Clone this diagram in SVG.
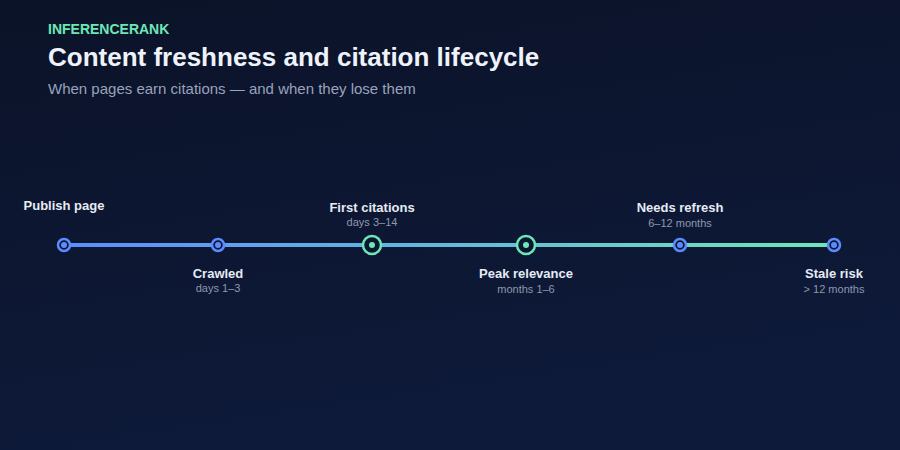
<svg xmlns="http://www.w3.org/2000/svg" width="900" height="450" viewBox="0 0 900 450">
<defs>
<linearGradient id="bg" x1="0" y1="0" x2="0.3" y2="1"><stop offset="0" stop-color="#0b1328"/><stop offset="1" stop-color="#0e1a3a"/></linearGradient>
<linearGradient id="ln" x1="64" y1="0" x2="834" y2="0" gradientUnits="userSpaceOnUse"><stop offset="0" stop-color="#5b8cff"/><stop offset="1" stop-color="#6ee7b7"/></linearGradient>
<style>
.t{font-family:"Liberation Sans",Arial,sans-serif;text-anchor:middle}
.l{font-size:13px;font-weight:bold;fill:#e6ebf5}
.s{font-size:11px;fill:#8d97b0}
.sm{fill:#0d1630;stroke:#5b8cff;stroke-width:2.5}
.smd{fill:#5b8cff}
.bg{fill:#0d1630;stroke:#6ee7b7;stroke-width:2.5}
.bgd{fill:#6ee7b7}
</style>
</defs>
<rect width="900" height="450" fill="url(#bg)"/>
<text x="48" y="34" font-family="Liberation Sans,Arial,sans-serif" font-size="14" font-weight="bold" fill="#6ee7b7">INFERENCERANK</text>
<text x="48" y="66" font-family="Liberation Sans,Arial,sans-serif" font-size="26" font-weight="bold" fill="#eef2fa">Content freshness and citation lifecycle</text>
<text x="48" y="94" font-family="Liberation Sans,Arial,sans-serif" font-size="15" fill="#98a3bd">When pages earn citations — and when they lose them</text>
<g id="connectors"><line x1="64" y1="245" x2="834" y2="245" stroke="url(#ln)" stroke-width="4"/></g>
<g id="n1"><circle cx="64" cy="245" r="6" class="sm"/><circle cx="64" cy="245" r="3" class="smd"/><text class="t l" x="64" y="210">Publish page</text></g>
<g id="n2"><circle cx="218" cy="245" r="6" class="sm"/><circle cx="218" cy="245" r="3" class="smd"/><text class="t l" x="218" y="278">Crawled</text><text class="t s" x="218" y="292">days 1–3</text></g>
<g id="n3"><circle cx="372" cy="245" r="9" class="bg"/><circle cx="372" cy="245" r="3" class="bgd"/><text class="t l" x="372" y="212">First citations</text><text class="t s" x="372" y="226">days 3–14</text></g>
<g id="n4"><circle cx="526" cy="245" r="9" class="bg"/><circle cx="526" cy="245" r="3" class="bgd"/><text class="t l" x="526" y="278">Peak relevance</text><text class="t s" x="526" y="293">months 1–6</text></g>
<g id="n5"><circle cx="680" cy="245" r="6" class="sm"/><circle cx="680" cy="245" r="3" class="smd"/><text class="t l" x="680" y="212">Needs refresh</text><text class="t s" x="680" y="227">6–12 months</text></g>
<g id="n6"><circle cx="834" cy="245" r="6" class="sm"/><circle cx="834" cy="245" r="3" class="smd"/><text class="t l" x="834" y="278">Stale risk</text><text class="t s" x="834" y="293">&gt; 12 months</text></g>
</svg>
